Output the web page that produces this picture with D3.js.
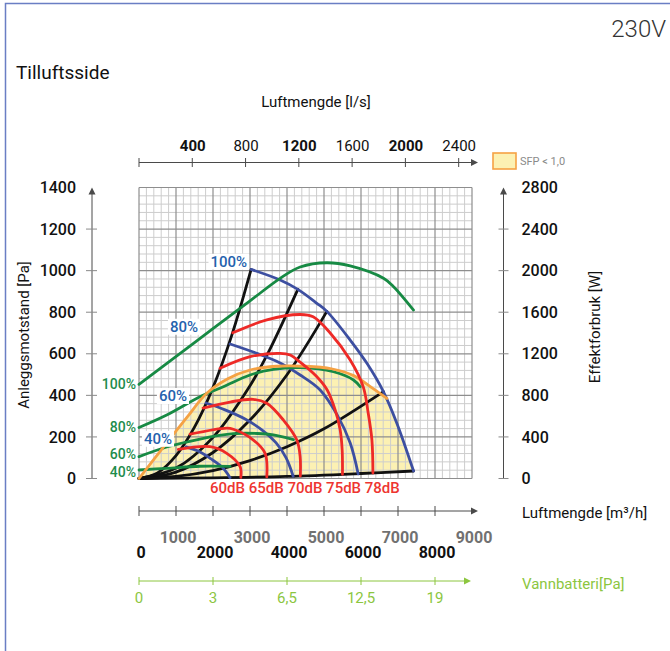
<!DOCTYPE html>
<html><head><meta charset="utf-8">
<script src="https://cdn.jsdelivr.net/npm/d3@7"></script>
<style>body{margin:0;background:#fff}svg{display:block}</style>
</head><body>
<svg id="c" width="670" height="651"></svg>
<script>
// ---------- data ----------
const lsTicks = [0, 400, 800, 1200, 1600, 2000, 2400];
const lsBold = [400, 1200, 2000];
const m3hTicks = [0, 1000, 2000, 3000, 4000, 5000, 6000, 7000, 8000];
const m3hLabels = [0, 1000, 2000, 3000, 4000, 5000, 6000, 7000, 8000, 9000];
const pressureTicks = [0, 200, 400, 600, 800, 1000, 1200, 1400];
const powerTicks = [0, 400, 800, 1200, 1600, 2000, 2400, 2800];
const vannAt = [0, 2000, 4000, 6000, 8000];
const vannLabels = ["0", "3", "6,5", "12,5", "19"];

const fanSpeeds = ["100%", "80%", "60%", "40%"];
// fan curves: [m3/h, Pa]
const fan100 = [[3030,1006],[3814,955],[4293,910],[4807,843],[5078,804],[5708,666],[6160,554],[6608,417],[6971,265],[7420,36]];
const fan80 = [[2462,647],[3184,602],[3814,556],[4355,498],[4896,426],[5356,306],[5708,171],[5924,22]];
const fan60 = [[1812,363],[2326,330],[2867,286],[3327,233],[3706,171],[3976,99],[4166,11]];
const fan40 = [[1271,152],[1650,128],[1948,94],[2245,55],[2462,4]];
// power curves: [m3/h, W]
const pow100 = [[0,906],[1500,1308],[3000,1709],[3814,1926],[4355,2035],[5077,2076],[5708,2045],[6608,1926],[6879,1846],[7420,1621]];
const pow80 = [[0,491],[749,611],[1650,787],[2280,883],[3003,996],[3633,1050],[4355,1066],[5256,1027],[5797,948],[5978,883]];
const pow60 = [[0,210],[749,303],[1650,380],[2551,431],[3200,433],[3633,420],[4174,375]];
const pow40 = [[0,82],[749,98],[1650,118],[2462,117]];
// sound level curves: [m3/h, Pa]
const soundLabels = ["60dB", "65dB", "70dB", "75dB", "78dB"];
const snd60 = [[1063,140],[1921,153],[2372,121],[2732,57],[2751,5]];
const snd65 = [[1380,213],[2372,242],[2551,237],[3092,185],[3408,121],[3454,8]];
const snd70 = [[1731,339],[2462,368],[3084,381],[3454,362],[3903,281],[4266,185],[4355,105],[4360,12]];
const snd75 = [[2191,530],[3003,586],[3814,602],[4085,594],[4355,560],[4788,493],[5086,426],[5302,330],[5437,233],[5491,137],[5499,20]];
const snd78 = [[2535,701],[3454,763],[4355,789],[4707,778],[5167,700],[5708,570],[6059,442],[6194,315],[6295,185],[6322,26]];
// system curves: [m3/h, Pa]
const sys1 = [[0,0],[500,27],[1000,110],[1500,247],[2000,438],[2500,685],[3030,1006]];
const sys2 = [[0,0],[1000,50],[2000,198],[3000,446],[3500,608],[4293,910]];
const sys3 = [[0,0],[1000,31],[2000,125],[3000,281],[4000,499],[5078,804]];
const sys4 = [[0,0],[1000,10],[2000,38],[3000,86],[4000,153],[5000,239],[6608,418]];
const sys5 = [[0,0],[2000,3],[4000,10],[6000,24],[7420,36]];
// SFP < 1,0 boundary: [m3/h, Pa]
const sfp = [[0,0],[700,160],[1300,295],[1831,410],[2400,480],[3000,522],[3700,540],[4500,540],[5200,528],[5800,495],[6300,436],[6700,385]];

// ---------- layout ----------
const svg = d3.select("#c");
const X = d3.scaleLinear().domain([0, 9000]).range([139, 472]);
const XLs = d3.scaleLinear().domain([0, 2500]).range([139, 472]);
const Y = d3.scaleLinear().domain([0, 1400]).range([478.5, 187.5]);
const YW = d3.scaleLinear().domain([0, 2800]).range([478.5, 187.5]);
const NUM = "Roboto, 'DejaVu Sans', sans-serif";
const fmt = d3.format("d");

const C = {blue:"#3d4fa1", red:"#ee2a27", green:"#178a44", black:"#111", orange:"#f5a244",
  fill:"#fcf1b3", blueTxt:"#2462ad", greenTxt:"#1e8c4c", redTxt:"#ee3530", vann:"#8cc63f", axis:"#4a4a4a", tick:"#8a8a8a"};

function arrowHead(x, y, dir, color) {
  const L = 7, s = 3.5;
  const p = dir === "up" ? [[x,y],[x-s,y+L],[x+s,y+L]] : [[x,y],[x-L,y-s],[x-L,y+s]];
  svg.append("path").attr("d", "M" + p.join("L") + "Z").attr("fill", color);
}

// border
svg.append("path").attr("d", "M5.5,651V3.5H670").attr("fill", "none").attr("stroke", "#6a7ec4").attr("stroke-width", 1.5);

// titles
svg.append("text").attr("x", 666).attr("y", 37).attr("text-anchor", "end")
  .style("font-family", NUM).style("font-weight", 300).style("font-size", "24px").attr("fill", "#333").text("230V");
svg.append("text").attr("x", 16).attr("y", 79)
  .style("font-family", NUM).style("font-size", "19px").attr("fill", "#111").text("Tilluftsside");
svg.append("text").attr("x", 316).attr("y", 107).attr("text-anchor", "middle")
  .style("font-family", NUM).style("font-size", "15px").attr("fill", "#111").text("Luftmengde [l/s]");

// ---------- top axis (l/s) ----------
const topY = 162.5;
svg.append("line").attr("x1", XLs(0)).attr("x2", 476).attr("y1", topY).attr("y2", topY).attr("stroke", C.axis);
arrowHead(478, topY, "right", C.axis);
svg.selectAll(".tt").data(lsTicks).join("line").attr("x1", d => XLs(d)).attr("x2", d => XLs(d))
  .attr("y1", topY - 4.5).attr("y2", topY + 4.5).attr("stroke", C.axis);
const topAx = svg.append("g").attr("transform", `translate(0,${topY - 12})`)
  .call(d3.axisTop(XLs).tickValues(lsTicks.filter(d => d > 0)).tickFormat(fmt).tickSize(0).tickPadding(0));
topAx.select(".domain").remove();
topAx.selectAll("text").style("font-family", NUM).style("font-size", "15px").attr("fill", "#111")
  .style("font-weight", d => lsBold.includes(d) ? 700 : 400).attr("dy", "0");

// legend
svg.append("rect").attr("x", 493).attr("y", 153).attr("width", 23).attr("height", 16)
  .attr("fill", C.fill).attr("stroke", C.orange).attr("stroke-width", 1.6);
svg.append("text").attr("x", 520).attr("y", 165).style("font-family", NUM).style("font-size", "11px")
  .attr("fill", "#8a8a8a").text("SFP < 1,0");

// ---------- fill (SFP region) ----------
const lineCR = d3.line().x(d => X(d[0])).y(d => Y(d[1])).curve(d3.curveCatmullRom.alpha(0.5));
const lineLin = d3.line().x(d => X(d[0])).y(d => Y(d[1]));
const tail = fan100.filter(d => d[0] > sfp[sfp.length - 1][0]).concat(sys5.slice().reverse());
svg.append("path").attr("d", lineCR(sfp) + lineLin(tail).replace(/^M/, "L") + "Z").attr("fill", C.fill);

// ---------- grid ----------
const grid = svg.append("g");
const vMinor = d3.range(0, 9001, 200), hMinor = d3.range(0, 1401, 40);
grid.selectAll(".vm").data(vMinor.filter(v => v % 1000)).join("line")
  .attr("x1", d => X(d)).attr("x2", d => X(d)).attr("y1", Y(0)).attr("y2", Y(1400)).attr("stroke", "#cdcdcd");
grid.selectAll(".hm").data(hMinor.filter(v => v % 200)).join("line")
  .attr("y1", d => Y(d)).attr("y2", d => Y(d)).attr("x1", X(0)).attr("x2", X(9000)).attr("stroke", "#cdcdcd");
grid.selectAll(".vM").data(vMinor.filter(v => v % 1000 === 0)).join("line")
  .attr("x1", d => X(d)).attr("x2", d => X(d)).attr("y1", Y(0)).attr("y2", Y(1400)).attr("stroke", "#8e8e8e").attr("stroke-width", 1.2);
grid.selectAll(".hM").data(pressureTicks).join("line")
  .attr("y1", d => Y(d)).attr("y2", d => Y(d)).attr("x1", X(0)).attr("x2", X(9000)).attr("stroke", "#8e8e8e").attr("stroke-width", 1.2);

// ---------- left axis ----------
const lx = 92;
svg.append("line").attr("x1", lx).attr("x2", lx).attr("y1", Y(0)).attr("y2", Y(1400) + 4).attr("stroke", C.axis);
arrowHead(lx, Y(1400), "up", C.axis);
svg.selectAll(".lt").data(pressureTicks.slice(0, -1)).join("line").attr("x1", lx - 6).attr("x2", lx + 5)
  .attr("y1", d => Y(d)).attr("y2", d => Y(d)).attr("stroke", C.tick);
const leftAx = svg.append("g").attr("transform", `translate(${lx - 16},0)`)
  .call(d3.axisLeft(Y).tickValues(pressureTicks).tickFormat(fmt).tickSize(0).tickPadding(0));
leftAx.select(".domain").remove();
leftAx.selectAll("text").style("font-family", NUM).style("font-size", "16px").style("font-weight", 500).attr("fill", "#111");
svg.append("text").attr("transform", "translate(29,335) rotate(-90)").attr("text-anchor", "middle")
  .style("font-family", NUM).style("font-size", "15px").attr("fill", "#111").text("Anleggsmotstand [Pa]");

// ---------- right axis ----------
const rx = 503.5;
svg.append("line").attr("x1", rx).attr("x2", rx).attr("y1", YW(0)).attr("y2", YW(2800) + 4).attr("stroke", C.axis);
arrowHead(rx, YW(2800), "up", C.axis);
svg.selectAll(".rt").data(powerTicks.slice(0, -1)).join("line").attr("x1", rx - 5).attr("x2", rx + 5)
  .attr("y1", d => YW(d)).attr("y2", d => YW(d)).attr("stroke", C.tick);
const rightAx = svg.append("g").attr("transform", `translate(${rx + 18},0)`)
  .call(d3.axisRight(YW).tickValues(powerTicks).tickFormat(fmt).tickSize(0).tickPadding(0));
rightAx.select(".domain").remove();
rightAx.selectAll("text").style("font-family", NUM).style("font-size", "16px").style("font-weight", 500).attr("fill", "#111");
svg.append("text").attr("transform", "translate(600,327) rotate(-90)").attr("text-anchor", "middle")
  .style("font-family", NUM).style("font-size", "15px").attr("fill", "#111").text("Effektforbruk [W]");

// ---------- bottom axis (m3/h) ----------
const by = 511;
svg.append("line").attr("x1", X(0)).attr("x2", 476).attr("y1", by).attr("y2", by).attr("stroke", C.axis);
arrowHead(478, by, "right", C.axis);
svg.selectAll(".bt").data(m3hTicks).join("line").attr("x1", d => X(d)).attr("x2", d => X(d))
  .attr("y1", by - 5).attr("y2", by + 5).attr("stroke", C.axis);
svg.selectAll(".bl").data(m3hLabels).join("text")
  .attr("x", d => X(d) + 2).attr("y", d => (d / 1000) % 2 ? 543 : 558).attr("text-anchor", "middle")
  .style("font-family", NUM).style("font-size", "16px").style("font-weight", 700)
  .attr("fill", d => (d / 1000) % 2 ? "#717171" : "#111").text(d => d);
svg.append("text").attr("x", 522).attr("y", 518).style("font-family", NUM).style("font-size", "15px")
  .attr("fill", "#111").text("Luftmengde [m³/h]");

// ---------- vannbatteri axis ----------
const vy = 581;
svg.append("line").attr("x1", X(0)).attr("x2", 469).attr("y1", vy).attr("y2", vy).attr("stroke", C.vann);
arrowHead(471, vy, "right", C.vann);
svg.selectAll(".vt").data(vannAt).join("line").attr("x1", d => X(d)).attr("x2", d => X(d))
  .attr("y1", vy - 4).attr("y2", vy + 4).attr("stroke", C.vann);
svg.selectAll(".vl").data(vannAt).join("text").attr("x", d => X(d)).attr("y", 603).attr("text-anchor", "middle")
  .style("font-family", NUM).style("font-size", "15px").attr("fill", C.vann).text((d, i) => vannLabels[i]);
svg.append("text").attr("x", 522).attr("y", 589).style("font-family", NUM).style("font-size", "15px")
  .attr("fill", C.vann).text("Vannbatteri[Pa]");

// ---------- curves ----------
const lineW = d3.line().x(d => X(d[0])).y(d => YW(d[1])).curve(d3.curveCatmullRom.alpha(0.5));
const curves = svg.append("g").attr("fill", "none").attr("stroke-linejoin", "round").attr("stroke-linecap", "round");
[sys1, sys2, sys3, sys4, sys5].forEach(s => curves.append("path").attr("d", lineCR(s)).attr("stroke", C.black).attr("stroke-width", 2.8));
const fans = [fan100, fan80, fan60, fan40];
fans.forEach(s => curves.append("path").attr("d", lineCR(s)).attr("stroke", C.blue).attr("stroke-width", 2.8));
const pows = [pow100, pow80, pow60, pow40];
pows.forEach(s => curves.append("path").attr("d", lineW(s)).attr("stroke", C.green).attr("stroke-width", 2.8));
curves.append("path").attr("d", lineCR(sfp)).attr("stroke", C.orange).attr("stroke-width", 2.8);
[snd60, snd65, snd70, snd75, snd78].forEach(s => curves.append("path").attr("d", lineCR(s)).attr("stroke", C.red).attr("stroke-width", 2.8));

// ---------- labels ----------
// fan speed labels (anchored in data units: right edge / vertical centre)
const fanLabelAt = [[2922, 1043], [1596, 730], [1298, 397], [893, 191]];
fanSpeeds.forEach((t, i) => {
  const g = svg.append("g");
  const txt = g.append("text").attr("x", X(fanLabelAt[i][0])).attr("y", Y(fanLabelAt[i][1]))
    .attr("text-anchor", "end").attr("dominant-baseline", "central")
    .style("font-family", NUM).style("font-size", "15px").style("font-weight", 500).attr("fill", C.blueTxt).text(t);
  const b = txt.node().getBBox();
  g.insert("rect", "text").attr("x", b.x - 2).attr("y", b.y + 1).attr("width", b.width + 4).attr("height", b.height - 2).attr("fill", "#fff");
});
// power labels at start of each power curve (small nudge keeps the two lowest apart)
const powLabelNudge = [0, 0, -2.5, 2];
fanSpeeds.forEach((t, i) => {
  svg.append("text").attr("x", 136).attr("y", YW(pows[i][0][1]) + powLabelNudge[i]).attr("text-anchor", "end").attr("dominant-baseline", "central")
    .style("font-family", NUM).style("font-size", "14px").style("font-weight", 500).attr("fill", C.greenTxt).text(t);
});
// sound labels
svg.append("text").attr("x", 210).attr("y", 493).style("font-family", NUM).style("font-size", "15px").style("font-weight", 500)
  .attr("fill", C.redTxt).text(soundLabels.join(" "));
</script>
</body></html>
